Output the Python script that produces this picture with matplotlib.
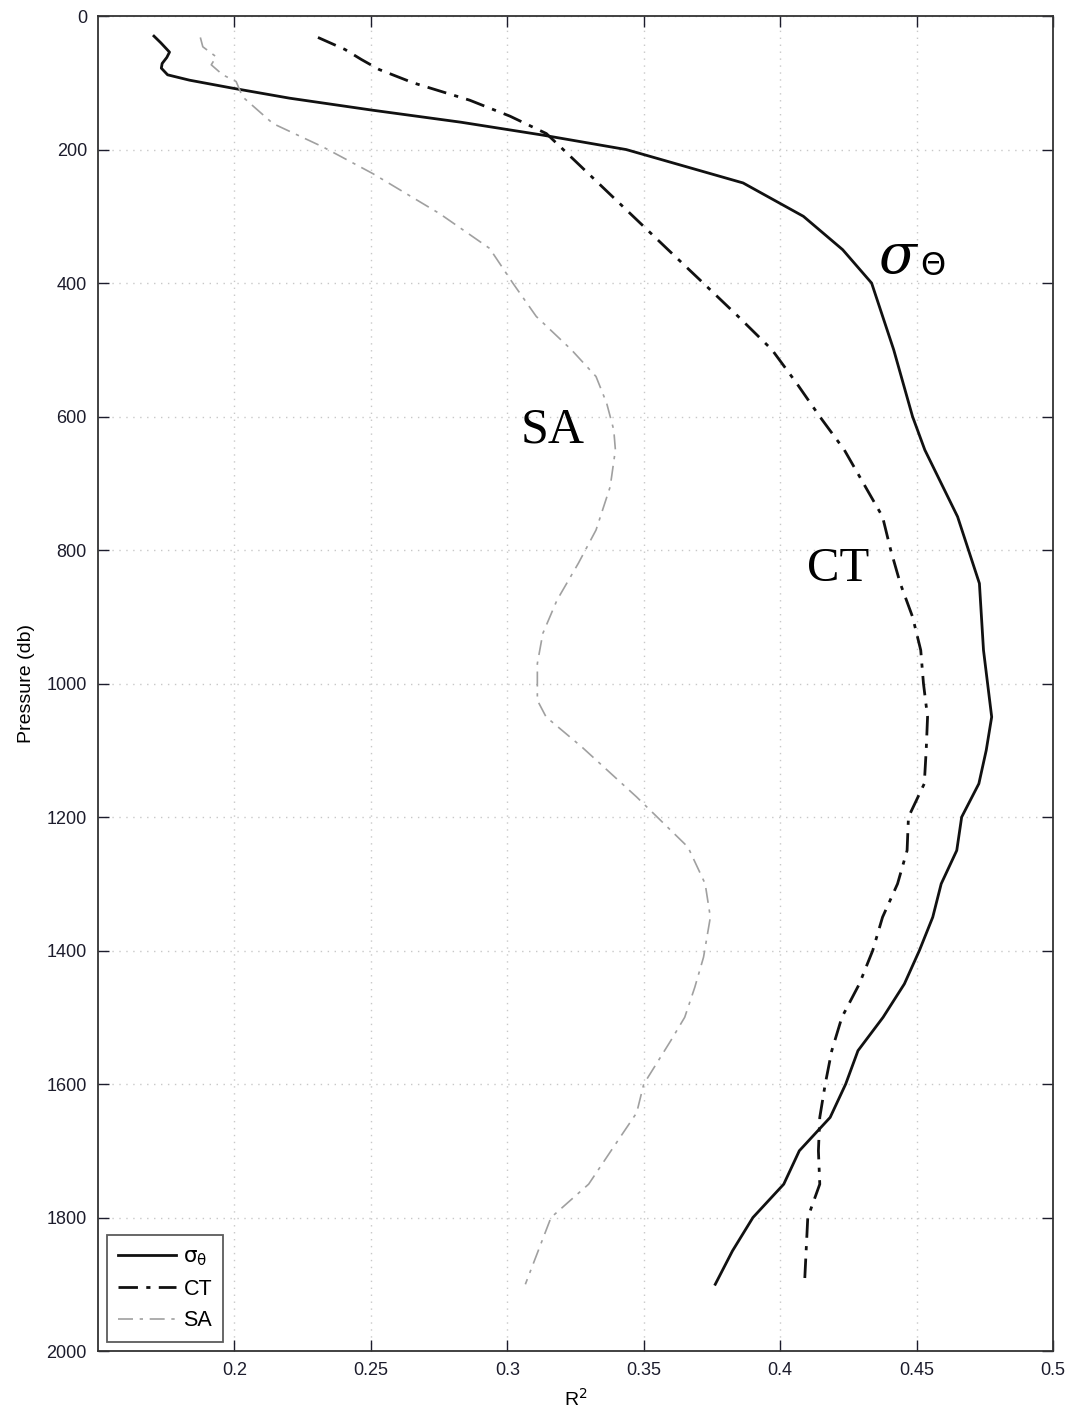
import matplotlib
matplotlib.use("Agg")
import matplotlib.pyplot as plt

plt.rcParams['font.family'] = ['Liberation Sans', 'DejaVu Sans']
plt.rcParams['mathtext.fontset'] = 'dejavusans'

# R^2 profiles versus pressure (db)
p_sigma = [30, 40, 54, 62, 71, 78, 88, 96, 108, 123, 141, 159, 178, 200,
           250, 300, 350, 400, 500, 600, 650, 750, 850, 950, 1000, 1050,
           1100, 1150, 1200, 1250, 1300, 1350, 1400, 1450, 1500, 1550,
           1600, 1650, 1700, 1750, 1800, 1850, 1900]
r2_sigma = [0.1705, 0.1730, 0.1762, 0.1752, 0.1735, 0.1732, 0.1755, 0.1835,
            0.1993, 0.2202, 0.2506, 0.2830, 0.3125, 0.3436,
            0.3864, 0.4085, 0.4229, 0.4335, 0.4416, 0.4485, 0.4530, 0.4650,
            0.4730, 0.4745, 0.4760, 0.4775,
            0.4755, 0.4728, 0.4665, 0.4647, 0.4590, 0.4559, 0.4510, 0.4455,
            0.4377, 0.4285, 0.4240, 0.4183, 0.4070, 0.4013, 0.3900, 0.3825,
            0.3762]

p_ct = [32, 50, 65, 80, 100, 126, 150, 176, 200, 250, 300, 350, 400,
        450, 500, 550, 600, 650, 700, 750, 800, 850, 900, 950, 1000, 1050,
        1100, 1150, 1200, 1250, 1300, 1350, 1400, 1450, 1500, 1550, 1600,
        1650, 1700, 1750, 1800, 1850, 1900]
r2_ct = [0.2306, 0.2405, 0.2465, 0.2530, 0.2655, 0.2862, 0.3010, 0.3143,
         0.3205, 0.3333, 0.3461, 0.3589, 0.3718,
         0.3846, 0.3970, 0.4060, 0.4145, 0.4235, 0.4305, 0.4375, 0.4405,
         0.4440, 0.4485, 0.4515, 0.4525, 0.4540,
         0.4535, 0.4528, 0.4470, 0.4465, 0.4430, 0.4375, 0.4339, 0.4290,
         0.4226, 0.4189, 0.4165, 0.4145, 0.4140, 0.4145, 0.4101, 0.4095,
         0.4089]

p_sa = [32, 46, 61, 73, 88, 98, 121, 161, 196, 236, 296, 348, 400, 450,
        500, 540, 580, 620, 650, 705, 770, 820, 875, 925, 970, 1025, 1050,
        1095, 1170, 1245, 1300, 1350, 1410, 1455, 1500, 1535, 1600, 1643,
        1700, 1750, 1800, 1900]
r2_sa = [0.1875, 0.1884, 0.1933, 0.1915, 0.1957, 0.2006, 0.2030, 0.2141,
         0.2324, 0.2507, 0.2752, 0.2935, 0.3020, 0.3106,
         0.3235, 0.3325, 0.3364, 0.3390, 0.3396, 0.3377, 0.3325, 0.3260,
         0.3182, 0.3130, 0.3110, 0.3110, 0.3142,
         0.3273, 0.3474, 0.3662, 0.3725, 0.3744, 0.3719, 0.3687, 0.3650,
         0.3599, 0.3500, 0.3474, 0.3380, 0.3298, 0.3160, 0.3066]

x_ticks = [0.2, 0.25, 0.3, 0.35, 0.4, 0.45, 0.5]
x_tick_labels = ['0.2', '0.25', '0.3', '0.35', '0.4', '0.45', '0.5']
y_ticks = list(range(0, 2001, 200))

fig = plt.figure(figsize=(10.76, 14.11), dpi=100)
ax = fig.add_axes([0.0911, 0.0425, 0.8876, 0.9461])

ax.plot(r2_sigma, p_sigma, color='#111111', lw=2.0, ls='-',
        label=r'$\mathrm{\sigma_\theta}$')
ax.plot(r2_ct, p_ct, color='#111111', lw=2.0, ls=(0, (7, 3, 1.5, 3)),
        label='CT')
ax.plot(r2_sa, p_sa, color='#a0a0a0', lw=1.2, ls=(0, (9, 4, 2, 4)),
        label='SA')

ax.set_xlim(0.15, 0.5)
ax.set_ylim(2000, 0)
ax.set_xticks(x_ticks)
ax.set_xticklabels(x_tick_labels)
ax.set_yticks(y_ticks)
ax.tick_params(direction='in', length=8, width=1, top=True, right=True,
               labelsize=13, colors='#1c1c2c', pad=8)
ax.grid(True, ls=(0, (1, 4)), color='#c8c8c8', lw=1)
for s in ax.spines.values():
    s.set_linewidth(1.3)
    s.set_color('#333333')

ax.set_ylabel('Pressure (db)', fontsize=14, labelpad=8)
ax.set_xlabel(r'R$^2$', fontsize=14, labelpad=6)

leg = ax.legend(loc='lower left', fontsize=15.5, handlelength=2.7,
                frameon=True, fancybox=False, borderpad=0.5,
                labelspacing=0.5, handletextpad=0.35, borderaxespad=0,
                bbox_to_anchor=(0.0094, 0.0067))
leg.get_frame().set_edgecolor('#333333')
leg.get_frame().set_linewidth(1.3)

# curve annotations
ax.text(0.3166, 621, 'SA', fontsize=36, family=['Liberation Serif'],
        ha='center', va='center', color='black')
ax.text(0.4213, 828, 'CT', fontsize=35, family=['Liberation Serif'],
        ha='center', va='center', color='black')
ax.text(0.4428, 362, 'σ', fontsize=40, family=['DejaVu Serif'],
        style='italic', ha='center', va='center', color='black')
ax.text(0.4559, 375, 'Θ', fontsize=23, family=['DejaVu Sans'],
        ha='center', va='center', color='black')

fig.savefig('out.png', dpi=100)
